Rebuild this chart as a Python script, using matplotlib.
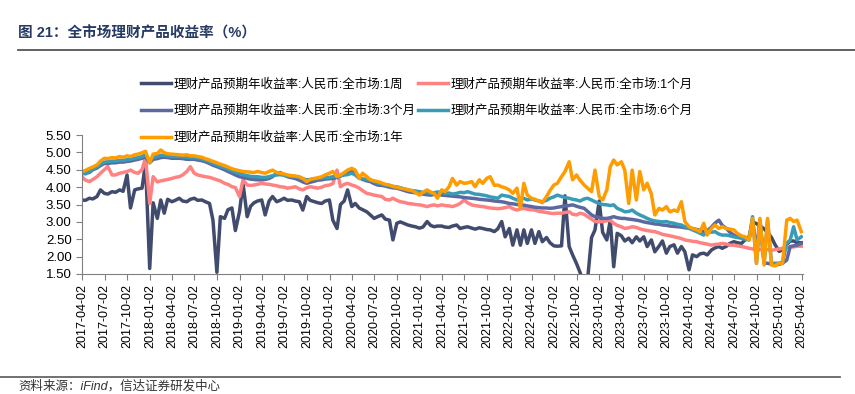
import pandas as pd
import matplotlib
matplotlib.use("Agg")
import matplotlib.pyplot as plt
from matplotlib.lines import Line2D

plt.rcParams['font.family'] = ['Liberation Sans', 'Noto Sans CJK SC']

# 半月度数据 2017-04-01 ~ 2025-04-01
dates = pd.date_range("2017-04-01", "2025-04-01", freq="SMS")

# 1周
w1 = [3.63, 3.62, 3.68, 3.66, 3.73, 3.92, 3.82, 3.80, 3.87, 3.85, 3.92, 3.88, 4.35, 3.40, 3.92, 3.95, 3.97, 4.70, 1.66, 3.55, 3.10, 3.63, 3.25, 3.65,
      3.58, 3.62, 3.68, 3.60, 3.58, 3.65, 3.68, 3.62, 3.63, 3.58, 3.53, 3.05, 1.55, 3.15, 3.10, 3.35, 3.40, 2.75, 3.30, 4.11, 3.15, 3.45, 3.55, 3.60,
      3.63, 3.20, 3.60, 3.73, 3.58, 3.62, 3.68, 3.62, 3.63, 3.60, 3.58, 3.34, 3.73, 3.62, 3.58, 3.55, 3.53, 3.60, 3.63, 3.05, 2.81, 3.50, 3.60, 3.92,
      3.44, 3.53, 3.40, 3.35, 3.29, 3.20, 3.10, 3.15, 3.20, 3.08, 3.05, 2.48, 2.96, 3.00, 2.95, 2.91, 2.88, 2.86, 2.82, 2.85, 3.01, 2.90, 2.86, 2.88,
      2.88, 2.85, 2.84, 2.88, 2.91, 2.81, 2.84, 2.86, 2.82, 2.79, 2.83, 2.81, 2.78, 2.77, 2.72, 2.80, 3.01, 2.57, 2.81, 2.33, 2.77, 2.33, 2.77, 2.38,
      2.77, 2.38, 2.72, 2.43, 2.55, 2.40, 2.31, 2.30, 2.31, 3.75, 2.29, 2.05, 1.80, 1.55, 1.20, 1.35, 2.55, 2.77, 3.60, 2.70, 2.48, 3.05, 1.71, 2.67,
      2.60, 2.45, 2.53, 2.40, 2.57, 2.45, 2.57, 2.29, 2.48, 2.14, 2.30, 2.45, 2.10, 2.29, 2.34, 2.10, 2.29, 2.14, 1.62, 2.05, 2.00, 2.08, 2.10, 2.05,
      2.19, 2.25, 2.29, 2.24, 2.30, 2.38, 2.43, 2.40, 2.38, 2.48, 2.57, 3.00, 2.95, 2.88, 2.80, 2.70, 2.55, 2.35, 2.15, 2.20, 2.35, 2.45, 2.45, 2.40,
      2.40]

# 1个月
m1 = [4.30, 4.20, 4.16, 4.22, 4.30, 4.40, 4.50, 4.59, 4.35, 4.35, 4.40, 4.42, 4.45, 4.49, 4.42, 4.40, 4.50, 4.85, 3.53, 4.30, 4.15, 4.18, 4.20, 4.22,
      4.25, 4.28, 4.30, 4.35, 4.45, 4.59, 4.40, 4.35, 4.32, 4.30, 4.28, 4.25, 4.21, 4.18, 4.11, 4.08, 4.01, 3.99, 3.73, 4.21, 4.06, 4.05, 4.06, 4.08,
      4.11, 4.09, 4.08, 4.06, 4.04, 4.01, 4.00, 3.97, 3.99, 4.01, 3.95, 3.92, 3.98, 4.01, 3.99, 3.97, 4.00, 4.04, 4.06, 4.10, 4.49, 4.01, 4.08, 4.11,
      4.06, 4.03, 3.97, 3.90, 3.82, 3.80, 3.77, 3.75, 3.73, 3.65, 3.63, 3.68, 3.62, 3.58, 3.56, 3.53, 3.52, 3.50, 3.49, 3.47, 3.44, 3.47, 3.49, 3.46,
      3.49, 3.47, 3.46, 3.44, 3.48, 3.53, 3.63, 3.55, 3.49, 3.47, 3.45, 3.44, 3.42, 3.40, 3.39, 3.38, 3.39, 3.41, 3.44, 3.38, 3.34, 3.37, 3.39, 3.36,
      3.35, 3.34, 3.30, 3.29, 3.27, 3.25, 3.24, 3.25, 3.25, 3.27, 3.29, 3.22, 3.20, 3.25, 3.22, 3.15, 3.08, 3.01, 3.00, 3.01, 3.03, 3.05, 2.96, 2.90,
      2.86, 2.81, 2.83, 2.86, 2.84, 2.80, 2.77, 2.75, 2.73, 2.72, 2.68, 2.64, 2.62, 2.60, 2.57, 2.55, 2.52, 2.48, 2.46, 2.44, 2.43, 2.40, 2.38, 2.36,
      2.33, 2.35, 2.36, 2.38, 2.36, 2.33, 2.33, 2.31, 2.29, 2.27, 2.24, 2.22, 2.19, 2.20, 2.22, 2.20, 2.18, 2.20, 2.22, 2.24, 2.25, 2.27, 2.28, 2.30,
      2.30]

# 3个月
m3 = [4.45, 4.40, 4.42, 4.50, 4.55, 4.62, 4.68, 4.68, 4.70, 4.70, 4.72, 4.72, 4.74, 4.75, 4.78, 4.80, 4.83, 4.88, 4.70, 4.80, 4.82, 4.85, 4.86, 4.85,
      4.83, 4.83, 4.83, 4.82, 4.80, 4.80, 4.80, 4.78, 4.76, 4.73, 4.68, 4.63, 4.59, 4.55, 4.50, 4.45, 4.40, 4.35, 4.30, 4.28, 4.25, 4.23, 4.22, 4.21,
      4.21, 4.22, 4.25, 4.30, 4.40, 4.42, 4.35, 4.30, 4.27, 4.25, 4.20, 4.15, 4.11, 4.14, 4.17, 4.20, 4.21, 4.23, 4.24, 4.25, 4.28, 4.32, 4.36, 4.40,
      4.45, 4.40, 4.30, 4.22, 4.18, 4.16, 4.10, 4.06, 4.05, 4.03, 4.00, 3.98, 3.97, 3.94, 3.90, 3.87, 3.85, 3.84, 3.82, 3.80, 3.78, 3.77, 3.79, 3.81,
      3.77, 3.76, 3.75, 3.74, 3.73, 3.72, 3.70, 3.69, 3.68, 3.67, 3.65, 3.64, 3.63, 3.62, 3.60, 3.59, 3.58, 3.56, 3.53, 3.52, 3.50, 3.49, 3.48, 3.46,
      3.44, 3.42, 3.41, 3.40, 3.40, 3.39, 3.40, 3.42, 3.44, 3.46, 3.47, 3.49, 3.45, 3.42, 3.39, 3.30, 3.20, 3.15, 3.12, 3.10, 3.10, 3.12, 3.15, 3.12,
      3.10, 3.10, 3.08, 3.07, 3.05, 3.03, 3.00, 2.98, 2.96, 2.94, 2.93, 2.91, 2.90, 2.88, 2.87, 2.86, 2.85, 2.83, 2.82, 2.81, 2.78, 2.76, 2.72, 2.74,
      2.85, 2.96, 3.05, 2.90, 2.81, 2.70, 2.62, 2.57, 2.55, 2.53, 2.50, 3.05, 2.19, 3.05, 1.81, 1.81, 1.78, 1.76, 1.78, 1.81, 1.90, 2.29, 2.31, 2.33,
      2.38]

# 6个月
m6 = [4.40, 4.38, 4.45, 4.52, 4.58, 4.66, 4.72, 4.73, 4.75, 4.75, 4.77, 4.77, 4.79, 4.80, 4.83, 4.85, 4.88, 4.93, 4.75, 4.86, 4.88, 4.92, 4.91, 4.90,
      4.88, 4.88, 4.88, 4.87, 4.86, 4.85, 4.85, 4.83, 4.81, 4.78, 4.73, 4.68, 4.64, 4.60, 4.56, 4.52, 4.47, 4.43, 4.39, 4.36, 4.33, 4.31, 4.30, 4.30,
      4.28, 4.28, 4.30, 4.33, 4.35, 4.36, 4.34, 4.32, 4.31, 4.30, 4.27, 4.24, 4.21, 4.22, 4.24, 4.25, 4.26, 4.27, 4.28, 4.30, 4.31, 4.33, 4.35, 4.36,
      4.40, 4.35, 4.25, 4.24, 4.22, 4.21, 4.16, 4.11, 4.09, 4.06, 4.04, 4.02, 4.01, 3.98, 3.95, 3.92, 3.90, 3.89, 3.87, 3.85, 3.84, 3.82, 3.84, 3.86,
      3.85, 3.82, 3.83, 3.80, 3.82, 3.85, 3.84, 3.87, 3.83, 3.80, 3.79, 3.77, 3.75, 3.72, 3.70, 3.68, 3.77, 3.75, 3.73, 3.68, 3.63, 3.66, 3.68, 3.63,
      3.66, 3.63, 3.60, 3.58, 3.62, 3.68, 3.72, 3.77, 3.73, 3.70, 3.68, 3.65, 3.63, 3.60, 3.66, 3.68, 3.63, 3.58, 3.53, 3.50, 3.49, 3.47, 3.49, 3.39,
      3.34, 3.29, 3.30, 3.34, 3.25, 3.20, 3.15, 3.10, 3.05, 3.03, 3.01, 3.00, 3.01, 2.98, 2.96, 2.93, 2.91, 2.86, 2.81, 2.77, 2.72, 2.67, 2.62, 2.77,
      2.70, 2.72, 2.65, 2.62, 2.62, 2.60, 2.57, 2.55, 2.53, 2.50, 2.48, 3.15, 1.81, 3.05, 1.81, 3.05, 1.81, 1.81, 1.81, 1.85, 2.38, 2.48, 2.86, 2.48,
      2.57]

# 1年
y1 = [4.45, 4.48, 4.54, 4.58, 4.64, 4.75, 4.83, 4.82, 4.85, 4.84, 4.88, 4.86, 4.90, 4.88, 4.93, 4.95, 4.99, 5.03, 4.70, 4.95, 4.97, 5.07, 4.99, 4.96,
      4.95, 4.94, 4.93, 4.92, 4.93, 4.90, 4.90, 4.88, 4.86, 4.82, 4.78, 4.74, 4.70, 4.66, 4.62, 4.58, 4.53, 4.50, 4.47, 4.45, 4.44, 4.43, 4.42, 4.45,
      4.42, 4.40, 4.45, 4.49, 4.42, 4.40, 4.38, 4.35, 4.33, 4.32, 4.30, 4.25, 4.16, 4.22, 4.25, 4.27, 4.30, 4.35, 4.40, 4.45, 4.30, 4.35, 4.42, 4.49,
      4.54, 4.49, 4.25, 4.40, 4.30, 4.21, 4.18, 4.16, 4.12, 4.08, 4.06, 4.02, 4.00, 3.97, 3.95, 3.92, 3.90, 3.85, 3.77, 3.85, 3.92, 3.86, 3.82, 3.68,
      3.92, 3.87, 4.01, 4.25, 4.06, 4.16, 4.11, 4.12, 4.16, 4.01, 4.21, 4.11, 4.25, 4.30, 4.05, 4.06, 4.01, 3.98, 3.92, 3.82, 3.97, 3.39, 4.11, 3.77,
      3.68, 3.65, 3.60, 3.55, 3.73, 3.90, 4.06, 4.11, 4.30, 4.45, 4.73, 4.21, 4.35, 4.20, 4.06, 3.97, 3.87, 4.49, 3.73, 3.63, 3.92, 4.59, 4.78, 4.64,
      4.73, 4.49, 3.53, 4.49, 3.63, 4.45, 3.92, 4.11, 3.80, 3.20, 3.39, 3.34, 3.44, 3.29, 3.34, 3.30, 3.58, 3.01, 2.86, 2.81, 2.77, 2.72, 2.96, 2.62,
      2.81, 2.91, 2.81, 2.86, 2.81, 2.79, 2.77, 2.67, 2.60, 2.57, 2.48, 3.10, 1.81, 3.10, 1.76, 3.10, 1.76, 1.73, 1.81, 1.81, 3.05, 3.10, 3.01, 3.05,
      2.72]

labels = ["理财产品预期年收益率:人民币:全市场:1周",
          "理财产品预期年收益率:人民币:全市场:1个月",
          "理财产品预期年收益率:人民币:全市场:3个月",
          "理财产品预期年收益率:人民币:全市场:6个月",
          "理财产品预期年收益率:人民币:全市场:1年"]
colors = ["#414B6E", "#FF8282", "#5C69A0", "#3A9BB6", "#FF9C00"]

fig = plt.figure(figsize=(8.55, 3.94), dpi=100)

# 标题和分隔线
fig.text(18/855, 1-33/394, "图 21：全市场理财产品收益率（%）", fontsize=10.5,
         fontweight="bold", color="#263A63", va="center", ha="left")
fig.add_artist(Line2D([18/855, 1.0], [1-50/394]*2, color="#555555", lw=1.3))
fig.add_artist(Line2D([0.0, 840/855], [1-377/394]*2, color="#666666", lw=1.3))
fig.text(18/855, 1-393/394, "资料来源：iFind，信达证券研发中心", fontsize=9,
         style="italic", color="#333333", va="bottom", ha="left")

ax = fig.add_axes([82/855, 1-274/394, (803-82)/855, (274-135)/394])

series = [w1, m1, m3, m6, y1]
handles = []
for s, lab, c in zip(series, labels, colors):
    h, = ax.plot(dates, s, color=c, lw=2.5, label=lab, solid_joinstyle="round")
    handles.append(h)

ax.set_ylim(1.5, 5.5)
ax.set_yticks([1.5, 2.0, 2.5, 3.0, 3.5, 4.0, 4.5, 5.0, 5.5])
ax.yaxis.set_major_formatter(plt.FormatStrFormatter("%.2f"))

xt = pd.date_range("2017-04-01", "2025-04-01", freq="3MS") + pd.Timedelta(days=1)
ax.set_xticks(xt)
ax.set_xticklabels([d.strftime("%Y-%m-%d") for d in xt], rotation=90, fontsize=9)
ax.set_xlim(pd.Timestamp("2017-04-01"), pd.Timestamp("2025-04-08"))

for sp in ["top", "right"]:
    ax.spines[sp].set_visible(False)
for sp in ["left", "bottom"]:
    ax.spines[sp].set_color("#808080")
ax.tick_params(axis="both", colors="#808080", length=4, labelcolor="#000000")
ax.tick_params(axis="y", labelsize=9.5)

# 图例按行排列：按列填充时调整顺序
order = [0, 2, 4, 1, 3]
fig.legend([handles[i] for i in order], [labels[i] for i in order],
           loc="upper left", bbox_to_anchor=(141/855, 1-78/394), ncol=2,
           frameon=False, fontsize=9, handlelength=2.4, handletextpad=0.2,
           columnspacing=0.2, labelspacing=1.15, borderpad=0, borderaxespad=0)

fig.savefig("out.png", dpi=100)
